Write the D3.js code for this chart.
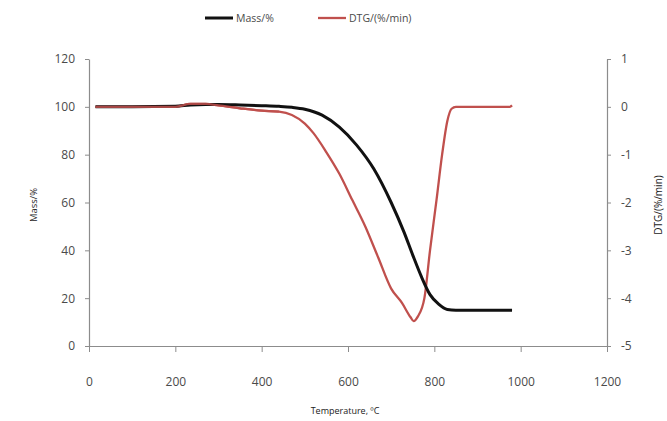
<!DOCTYPE html>
<html><head><meta charset="utf-8">
<script src="https://cdn.jsdelivr.net/npm/d3@7"></script>
<style>body{margin:0;background:#fff}svg{display:block}text{font-family:"Open Sans","Liberation Sans",sans-serif}</style>
</head><body>
<svg id="c" width="667" height="421"></svg>
<script>
// Data
const massTemp = [15,100,200,235,270,300,350,400,440,470,500,540,580,620,660,700,730,750,770,790,810,830,850,900,980];
const massVal  = [100,100,100.2,100.8,101,101,100.8,100.5,100.2,99.8,99,96.5,91.5,84,74,60,47.5,38,29,21.5,17.5,15.3,15,15,15];
const dtgTemp = [15,100,200,235,270,300,350,400,440,470,500,520,550,580,610,640,670,700,725,745,752,762,777,790,805,818,830,840,850,900,975,980];
const dtgVal  = [0,0,0,0.06,0.06,0.03,-0.03,-0.08,-0.1,-0.17,-0.35,-0.55,-0.95,-1.4,-1.95,-2.5,-3.15,-3.8,-4.1,-4.4,-4.48,-4.38,-4.0,-3.0,-1.95,-1.0,-0.3,-0.04,0,0,0,0.03];
const xTicks = [0,200,400,600,800,1000,1200];
const yLeftTicks = [0,20,40,60,80,100,120];
const yRightTicks = [-5,-4,-3,-2,-1,0,1];
const seriesNames = ["Mass/%","DTG/(%/min)"];
const axisTitles = {x:"Temperature, \u00BAC", yl:"Mass/%", yr:"DTG/(%/min)"};

const svg = d3.select("#c");
const L=89, R=607, T=59, B=346;
const x = d3.scaleLinear().domain([0,1200]).range([L,R]);
const yl = d3.scaleLinear().domain([0,120]).range([B,T]);
const yr = d3.scaleLinear().domain([-5,1]).range([B,T]);
const axisCol="#8c8c8c", txtCol="#4a4a4a";
const fmt = d => String(d).replace("\u2212","-");

function style(g){
  g.select(".domain").attr("stroke",axisCol).attr("stroke-width",1.2);
  g.selectAll(".tick line").attr("stroke",axisCol);
  g.selectAll(".tick text").attr("fill",txtCol).attr("font-size",12);
}
svg.append("g").attr("transform",`translate(0,${B})`)
  .call(d3.axisBottom(x).tickValues(xTicks).tickFormat(fmt).tickSize(6).tickSizeOuter(0).tickPadding(25))
  .call(style);
svg.append("g").attr("transform",`translate(${L},0)`)
  .call(d3.axisLeft(yl).tickValues(yLeftTicks).tickFormat(fmt).tickSize(4).tickSizeOuter(0).tickPadding(10))
  .call(style);
svg.append("g").attr("transform",`translate(${R},0)`)
  .call(d3.axisRight(yr).tickValues(yRightTicks).tickFormat(fmt).tickSize(4).tickSizeOuter(0).tickPadding(10))
  .call(style);

const massData = massTemp.map((t,i)=>[t,massVal[i]]);
const dtgData = dtgTemp.map((t,i)=>[t,dtgVal[i]]);
const dtgLine = d3.line().x(d=>x(d[0])).y(d=>yr(d[1])).curve(d3.curveMonotoneX);
svg.append("path").datum(dtgData)
  .attr("fill","none").attr("stroke","#c0504d").attr("stroke-width",2.3)
  .attr("d",dtgLine);
svg.append("path").datum(massData)
  .attr("fill","none").attr("stroke","#111").attr("stroke-width",3)
  .attr("d",d3.line().x(d=>x(d[0])).y(d=>yl(d[1])).curve(d3.curveMonotoneX));
// DTG drawn again over the flat start, where it lies on top in the reference
svg.append("path").datum(dtgData.filter(d=>d[0]<=440))
  .attr("fill","none").attr("stroke","#c0504d").attr("stroke-width",2.3).attr("opacity",0.85)
  .attr("d",dtgLine);

// legend
const leg = svg.append("g").attr("font-size",10.5).attr("fill",txtCol);
leg.append("line").attr("x1",205).attr("x2",233).attr("y1",18).attr("y2",18).attr("stroke","#111").attr("stroke-width",3);
leg.append("text").attr("x",236).attr("y",22).attr("fill",txtCol).text(seriesNames[0]);
leg.append("line").attr("x1",318).attr("x2",346).attr("y1",18).attr("y2",18).attr("stroke","#c0504d").attr("stroke-width",2.3);
leg.append("text").attr("x",349).attr("y",22).attr("fill",txtCol).text(seriesNames[1]);

// axis titles
svg.append("text").attr("x",345).attr("y",414).attr("text-anchor","middle").attr("font-size",9).attr("fill","#222").text(axisTitles.x);
svg.append("text").attr("transform","translate(37,205) rotate(-90)").attr("text-anchor","middle").attr("font-size",9.5).attr("fill","#222").text(axisTitles.yl);
svg.append("text").attr("transform","translate(662,205) rotate(-90)").attr("text-anchor","middle").attr("font-size",10).attr("fill","#222").text(axisTitles.yr);
</script>
</body></html>
